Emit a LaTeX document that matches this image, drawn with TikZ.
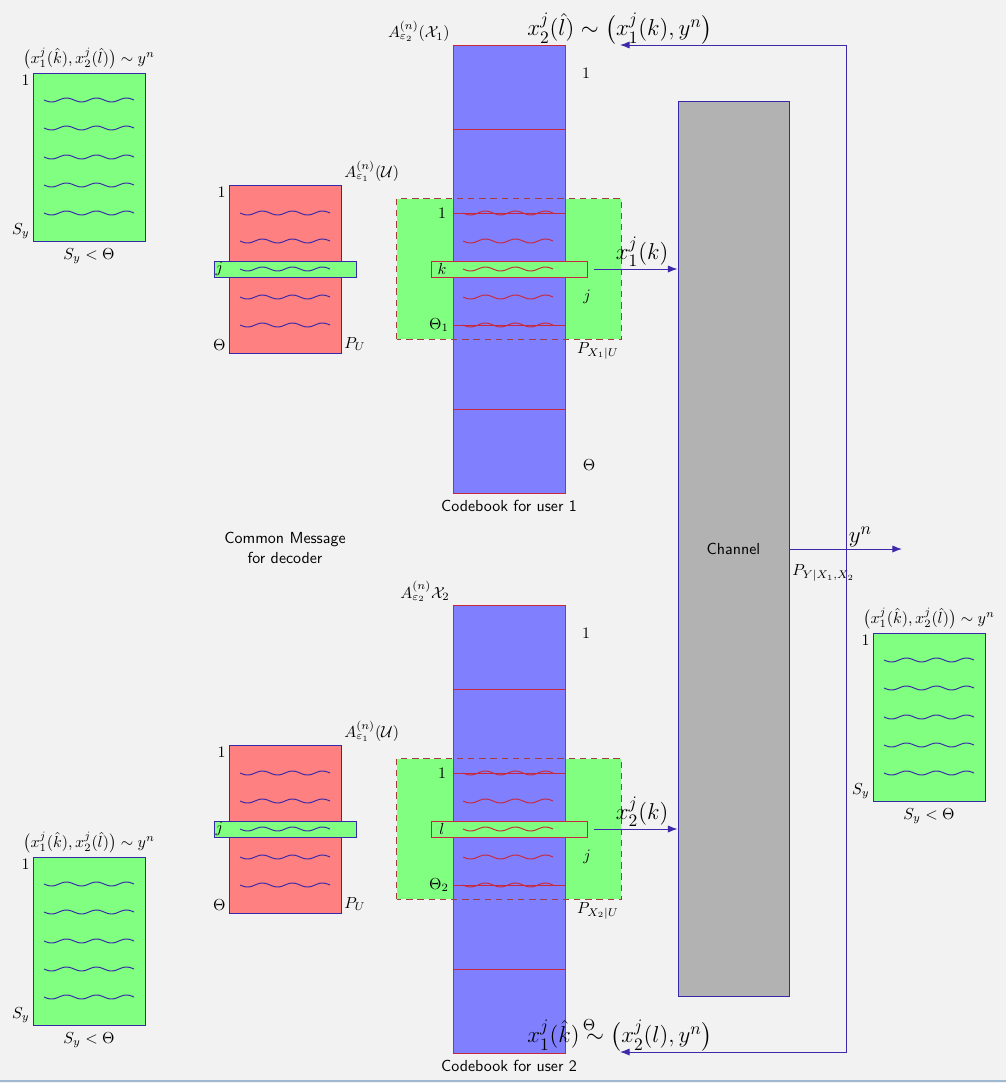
\documentclass[tikz,border=0pt]{standalone}
\usepackage{amsmath,amssymb}
\usetikzlibrary{arrows.meta,positioning,calc}
\definecolor{cbnavy}{RGB}{55,40,170}
\definecolor{cbred}{RGB}{200,40,60}
\definecolor{cbdash}{RGB}{165,60,60}
\definecolor{cbarrow}{RGB}{60,40,170}
\definecolor{cbframe}{RGB}{160,185,210}
\newcommand{\wave}[3][cbnavy]{\draw[#1] plot[domain=0:90,samples=46,smooth] ({#2+\x},{#3+2*sin(12*\x)});}

\begin{document}
\begin{tikzpicture}[
    x=0.022cm, y=-0.022cm, line width=0.6pt,
    lbl/.style={inner sep=1.5pt, font=\normalsize},
    bigl/.style={inner sep=1pt, text=black, font=\fontsize{15}{18}\selectfont},
    sbox/.style={rectangle, draw=cbnavy, fill=green!50, minimum width=2.464cm, minimum height=3.696cm, inner sep=0pt},
    ubox/.style={sbox, fill=red!50},
    jstrip/.style={rectangle, draw=cbnavy, fill=green!50, minimum width=3.124cm, minimum height=0.352cm, inner sep=0pt},
    cbook/.style={rectangle, draw=cbred, fill=blue!50, minimum width=2.464cm, minimum height=9.856cm, inner sep=0pt},
    region/.style={rectangle, fill=green!50, minimum width=4.928cm, minimum height=3.08cm, inner sep=0pt},
    kstrip/.style={rectangle, draw=cbred, fill=green!50, minimum width=3.432cm, minimum height=0.352cm, inner sep=0pt},
    chan/.style={rectangle, draw=cbnavy, fill=black!30, minimum width=2.442cm, minimum height=19.712cm, inner sep=0pt, font=\normalsize\sffamily},
    arr/.style={-{Latex[length=6pt]}, cbarrow},
    txt/.style={font=\normalsize\sffamily, align=center}
  ]
    \fill[black!5] (0,0) rectangle (1006,1083);
    \useasboundingbox (0,0) rectangle (1006,1083);
    \draw[cbframe, line width=1.2pt] (0,1081) -- (1006,1081);

    % decoded sets
    \node[sbox] (sy1) at (89,157) {};
    \node[sbox] (sy2) at (89,941) {};
    \node[sbox] (sy3) at (929,717) {};
    \foreach \bx/\by in {89/157, 89/941, 929/717} {
      \foreach \yy in {-57,-29,0,28,56} {\wave{\bx-45}{\by+\yy}}
    }
    \foreach \s in {sy1,sy2,sy3} {
      \node[lbl, anchor=north east] (\s one) at (\s.north west) {$1$};
      \node[lbl, anchor=south east] (\s sy) at (\s.south west) {$S_y$};
      \node[lbl, anchor=south, inner sep=2pt] (\s top) at (\s.north) {$\bigl(x_1^j(\hat{k}),x_2^j(\hat{l})\bigr)\sim y^n$};
      \node[lbl, anchor=north, inner sep=4pt] (\s bot) at (\s.south) {$S_y<\Theta$};
    }

    % common message
    \node[ubox] (u1) at (285,269) {};
    \node[ubox] (u2) at (285,829) {};
    \foreach \s/\by in {u1/269, u2/829} {
      \node[jstrip] (\s j) at (285,\by) {};
      \foreach \yy in {-56,-28,0,28,56} {\wave{240}{\by+\yy}}
      \node[lbl, anchor=west, inner sep=1pt] (\s jl) at (\s j.west) {$j$};
      \node[lbl, anchor=north east] (\s one) at (\s.north west) {$1$};
      \node[lbl, anchor=south east] (\s th) at (\s.south west) {$\Theta$};
      \node[lbl, anchor=south west] (\s pu) at (\s.south east) {$P_U$};
      \node[lbl, anchor=south west] (\s set) at (\s.north east) {$A_{\varepsilon_1}^{(n)}(\mathcal{U})$};
    }
    \node[txt] (cm) at (285,548) {Common Message\\for decoder};

    % codebooks
    \node[region] (rg1) at (509,269) {};
    \node[region] (rg2) at (509,829) {};
    \node[cbook] (cb1) at (509,269) {};
    \node[cbook] (cb2) at (509,829) {};
    \draw[cbdash, dash pattern=on 4pt off 3pt] (rg1.south west) rectangle (rg1.north east);
    \draw[cbdash, dash pattern=on 4pt off 3pt] (rg2.south west) rectangle (rg2.north east);
    \foreach \yy in {129,213,325,409,689,773,885,969} {\draw[cbred] (453,\yy) -- (565,\yy);}
    \node[kstrip] (k1) at (509,269) {};
    \node[kstrip] (l2) at (509,829) {};
    \foreach \by in {269,829} {
      \foreach \yy in {-56,-28,0,28,56} {\wave[cbred]{463}{\by+\yy}}
    }
    \node[lbl] (k1l) at (442,269) {$k$};
    \node[lbl] (l2l) at (442,829) {$l$};
    \node[lbl] (rg1one) at (442,213) {$1$};
    \node[lbl] (rg1th) at (439,325) {$\Theta_1$};
    \node[lbl] (rg2one) at (442,773) {$1$};
    \node[lbl] (rg2th) at (439,885) {$\Theta_2$};
    \node[lbl] (rg1j) at (587,297) {$j$};
    \node[lbl] (rg2j) at (587,857) {$j$};
    \node[lbl, anchor=north east] (rg1p) at (rg1.south east) {$P_{X_1|U}$};
    \node[lbl, anchor=north east] (rg2p) at (rg2.south east) {$P_{X_2|U}$};
    \node[lbl] (cb1one) at (586,73) {$1$};
    \node[lbl] (cb1th) at (589,465) {$\Theta$};
    \node[lbl] (cb2one) at (586,633) {$1$};
    \node[lbl] (cb2th) at (589,1025) {$\Theta$};
    \node[lbl, anchor=south east] (cb1set) at (cb1.north west) {$A_{\varepsilon_2}^{(n)}(\mathcal{X}_1)$};
    \node[lbl, anchor=south east] (cb2set) at (cb2.north west) {$A_{\varepsilon_2}^{(n)}\mathcal{X}_2$};
    \node[txt, anchor=north, inner sep=4pt] (cb1cap) at (cb1.south) {Codebook for user 1};
    \node[txt, anchor=north, inner sep=4pt] (cb2cap) at (cb2.south) {Codebook for user 2};

    % channel
    \node[chan] (ch) at (733.5,549) {Channel};
    \node[lbl, anchor=north west] (chp) at ([yshift=-8pt]ch.east) {$P_{Y|X_1,X_2}$};
    \coordinate (yout) at (902,549);
    \coordinate (fb) at (846,549);
    \coordinate (fb1) at (620,45);
    \coordinate (fb2) at (620,1052);

    \draw[arr] ([xshift=4pt]k1.east) -- (k1.east -| ch.west) node[bigl, midway, above, xshift=4pt] (x1k) {$x_1^j(k)$};
    \draw[arr] ([xshift=4pt]l2.east) -- (l2.east -| ch.west) node[bigl, midway, above, xshift=4pt] (x2k) {$x_2^j(k)$};
    \draw[arr] (ch.east) -- (yout) node[bigl, pos=0.63, above] (yn) {$y^n$};
    \draw[arr] (fb) |- (fb1);
    \draw[arr] (fb) |- (fb2);
    \node[bigl, anchor=south, inner sep=0pt] (dec2) at (fb1) {$x_2^j(\hat{l})\sim\bigl(x_1^j(k),y^n\bigr)$};
    \node[bigl, anchor=south, inner sep=0pt] (dec1) at (fb2) {$x_1^j(\hat{k})\sim\bigl(x_2^j(l),y^n\bigr)$};
  \end{tikzpicture}
\end{document}
